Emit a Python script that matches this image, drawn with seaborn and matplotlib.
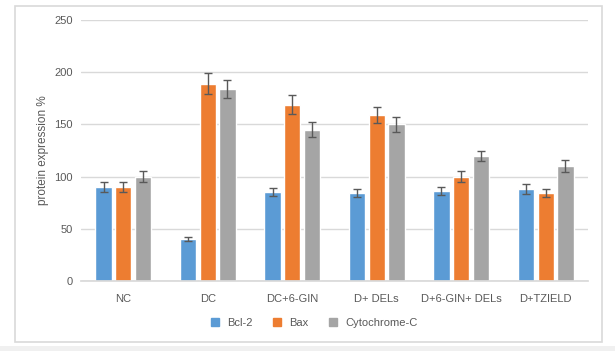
import matplotlib
matplotlib.use("Agg")
import matplotlib.pyplot as plt
from matplotlib.patches import Rectangle
from matplotlib.lines import Line2D
import seaborn as sns
import pandas as pd

groups = ["NC", "DC", "DC+6-GIN", "D+ DELs", "D+6-GIN+ DELs", "D+TZIELD"]
proteins = ["Bcl-2", "Bax", "Cytochrome-C"]
bcl2 = [90, 40, 85, 84, 86, 88]
bax = [90, 189, 169, 159, 100, 84]
cytc = [100, 184, 145, 150, 120, 110]
bcl2_err = [5, 2, 4, 4, 4, 5]
bax_err = [5, 10, 9, 8, 5, 4]
cytc_err = [5, 9, 7, 7, 5, 6]

colors = ["#5B9BD5", "#ED7D31", "#A5A5A5"]
text_col = "#595959"

rows = []
for name, vals, errs in zip(proteins, [bcl2, bax, cytc], [bcl2_err, bax_err, cytc_err]):
    for g, v, e in zip(groups, vals, errs):
        rows.append({"group": g, "protein": name, "value": v, "err": e})
df = pd.DataFrame(rows)

sns.set_theme(style="white")
plt.rcParams["font.family"] = ["Liberation Sans", "DejaVu Sans"]

fig = plt.figure(figsize=(6.15, 3.51), dpi=100)
ax = fig.add_axes([0.1317, 0.1994, 0.8243, 0.7436])

sns.barplot(data=df, x="group", y="value", hue="protein", order=groups,
            hue_order=proteins, palette=colors, width=0.7, gap=0.17,
            errorbar=None, legend=False, saturation=1, ax=ax)

# error bars at the centres of the drawn bars
for cont, name in zip(ax.containers, proteins):
    sub = df[df["protein"] == name].set_index("group").loc[groups]
    xs = [p.get_x() + p.get_width() / 2 for p in cont.patches]
    ax.errorbar(xs, sub["value"], yerr=sub["err"], fmt="none",
                ecolor=text_col, elinewidth=1, capsize=3, capthick=1, zorder=3)

ax.set_ylim(0, 250)
ax.set_yticks(range(0, 251, 50))
ax.set_xlim(-0.5, len(groups) - 0.5)
ax.yaxis.grid(True, color="#D9D9D9", linewidth=1)
ax.set_axisbelow(True)
for s in ["top", "right", "left"]:
    ax.spines[s].set_visible(False)
ax.spines["bottom"].set_color("#D9D9D9")
ax.tick_params(axis="both", length=0, labelsize=8, colors=text_col, pad=6)
ax.tick_params(axis="x", pad=9)
ax.set_xlabel("")
ax.set_ylabel("protein expression %", fontsize=8.5, color=text_col, labelpad=4)

handles = [Line2D([], [], marker="s", linestyle="none", markersize=6,
                  markerfacecolor=c, markeredgecolor=c) for c in colors]
fig.legend(handles, proteins, loc="center", bbox_to_anchor=(0.505, 0.08), ncol=3,
           frameon=False, fontsize=8, handletextpad=0.1, columnspacing=1.2,
           labelcolor=text_col)

# chart frame and page strip
fig.add_artist(Rectangle((15 / 615, 1 - 342 / 351), 587 / 615, 336 / 351,
                         transform=fig.transFigure, fill=False,
                         edgecolor="#D9D9D9", linewidth=1.2))
fig.add_artist(Rectangle((0, 0), 1, 5 / 351, transform=fig.transFigure,
                         facecolor="#F0F0F0", edgecolor="none"))

fig.savefig("out.png", dpi=100)
